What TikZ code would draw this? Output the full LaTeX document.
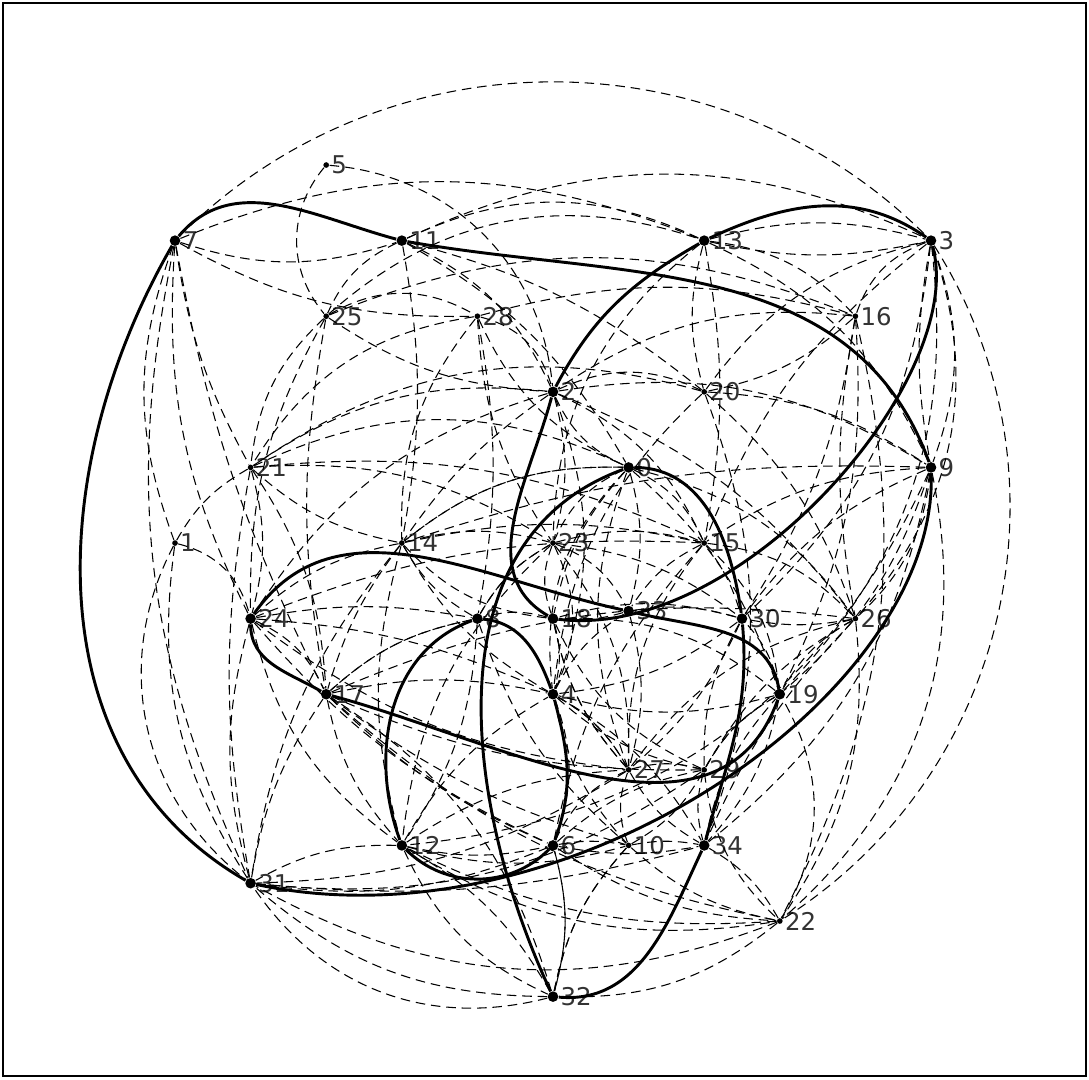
\documentclass[tikz,border=0pt]{standalone}
\usepackage{fontspec}
\setmainfont{DejaVu Sans}

\begin{document}
\begin{tikzpicture}[x=1cm, y=1cm,
    bignode/.style={circle, fill=black, inner sep=0pt, minimum size=0.14cm, label distance=0.07cm},
    smallnode/.style={circle, fill=black, inner sep=0pt, minimum size=0.075cm, label distance=0.14cm},
    every label/.style={font=\fontsize{9.2}{10}\selectfont, text=black!80, inner sep=0.5pt},
    cycleedge/.style={line width=1.1pt},
    otheredge/.style={line width=0.4pt, dash pattern=on 3.6pt off 2.2pt}]

    % frame
    \useasboundingbox (-2.315,2.183) rectangle (12.090,-12.090);
    \draw[line width=1pt] (-2.275,2.143) rectangle (12.050,-12.050);

    % vertices on the cycles
    \node[bignode, label=right:0]  (n0)  at (6,-4)    {};
    \node[bignode, label=right:2]  (n2)  at (5,-3)    {};
    \node[bignode, label=right:3]  (n3)  at (10,-1)   {};
    \node[bignode, label=right:4]  (n4)  at (5,-7)    {};
    \node[bignode, label=right:6]  (n6)  at (5,-9)    {};
    \node[bignode, label=right:7]  (n7)  at (0,-1)    {};
    \node[bignode, label=right:8]  (n8)  at (4,-6)    {};
    \node[bignode, label=right:9]  (n9)  at (10,-4)   {};
    \node[bignode, label=right:11] (n11) at (3,-1)    {};
    \node[bignode, label=right:12] (n12) at (3,-9)    {};
    \node[bignode, label=right:13] (n13) at (7,-1)    {};
    \node[bignode, label=right:17] (n17) at (2,-7)    {};
    \node[bignode, label=right:18] (n18) at (5,-6)    {};
    \node[bignode, label=right:19] (n19) at (8,-7)    {};
    \node[bignode, label=right:24] (n24) at (1,-6)    {};
    \node[bignode, label=right:30] (n30) at (7.5,-6)  {};
    \node[bignode, label=right:31] (n31) at (1,-9.5)  {};
    \node[bignode, label=right:32] (n32) at (5,-11)   {};
    \node[bignode, label=right:33] (n33) at (6,-5.9)  {};
    \node[bignode, label=right:34] (n34) at (7,-9)    {};

    % remaining vertices
    \node[smallnode, label=right:1]  (n1)  at (0,-5)  {};
    \node[smallnode, label=right:5]  (n5)  at (2,0)   {};
    \node[smallnode, label=right:10] (n10) at (6,-9)  {};
    \node[smallnode, label=right:14] (n14) at (3,-5)  {};
    \node[smallnode, label=right:15] (n15) at (7,-5)  {};
    \node[smallnode, label=right:16] (n16) at (9,-2)  {};
    \node[smallnode, label=right:20] (n20) at (7,-3)  {};
    \node[smallnode, label=right:21] (n21) at (1,-4)  {};
    \node[smallnode, label=right:22] (n22) at (8,-10) {};
    \node[smallnode, label=right:23] (n23) at (5,-5)  {};
    \node[smallnode, label=right:25] (n25) at (2,-2)  {};
    \node[smallnode, label=right:26] (n26) at (9,-6)  {};
    \node[smallnode, label=right:27] (n27) at (6,-8)  {};
    \node[smallnode, label=right:28] (n28) at (4,-2)  {};
    \node[smallnode, label=right:29] (n29) at (7,-8)  {};

    % other edges (dashed)
    \foreach \a/\c/\b in {7/3/45, 7/13/22, 7/11/-18, 7/28/-15, 7/21/-10, 7/24/-15,
        7/17/-8, 7/1/-20, 7/31/-18, 5/25/-40, 5/2/40,
        11/13/25, 11/3/25, 11/2/20, 11/25/-20, 11/14/10, 11/0/15, 11/20/12,
        25/13/30, 25/21/-20, 25/24/-15, 25/28/30, 25/16/22, 25/17/-10, 25/2/-15,
        28/16/15, 28/8/10, 28/23/-15, 28/0/-20, 28/21/-25, 28/14/-20, 28/2/30,
        13/3/15, 13/3/-12, 13/16/20, 13/9/20, 13/20/-15, 13/23/-25, 13/15/10,
        3/9/20, 3/9/-10, 3/26/30, 3/19/25, 3/22/45, 3/16/-25, 3/20/-20, 3/15/-15, 3/30/20,
        16/26/-10, 16/22/20, 16/2/-20, 16/30/12, 16/19/15, 16/20/15,
        20/4/-20, 20/9/15, 20/2/-25, 20/21/-25, 20/26/15, 20/34/20}
        \draw[otheredge] (n\a) to[bend left=\b] (n\c);
    \foreach \a/\c/\b in {2/9/20, 2/21/-20, 2/24/-20, 2/14/-10, 2/23/15, 2/15/20,
        2/26/15, 2/4/20, 2/0/-20,
        21/24/15, 21/1/-15, 21/17/15, 21/31/-10, 21/15/15, 21/23/18, 21/0/25, 21/14/-15,
        9/26/20, 9/22/30, 9/19/15, 9/15/-15, 9/12/30, 9/34/20, 9/14/-10, 9/30/-15,
        14/24/-15, 14/17/-10, 14/23/15, 14/18/-20, 14/12/-15, 14/31/-15, 14/15/12,
        14/4/-15, 14/0/20,
        23/18/-20, 23/15/15, 23/33/20, 23/4/25, 23/27/20, 23/12/-20, 23/8/-15, 23/30/15,
        15/33/-15, 15/30/10, 15/26/20, 15/19/20, 15/27/-20, 15/6/-15, 15/24/-12,
        0/23/-20, 0/15/20, 0/33/15, 0/18/-15, 0/4/-25, 0/26/20, 0/27/-20, 0/19/15, 0/14/-20}
        \draw[otheredge] (n\a) to[bend left=\b] (n\c);
    \foreach \a/\c/\b in {26/19/-15, 26/22/20, 26/29/-15, 26/34/-10, 26/17/-15,
        26/27/-20, 26/30/10,
        24/31/-15, 24/17/20, 24/12/-20, 24/8/10, 24/4/10, 24/27/-15, 24/6/-12,
        1/31/-20, 1/31/-40, 1/24/30,
        17/12/-15, 17/6/-10, 17/10/-10, 17/22/-15, 17/31/-12, 17/4/12, 17/8/15, 17/29/-12,
        12/6/-12, 12/31/-15, 12/32/-20, 12/22/-20, 12/10/-15, 12/4/15, 12/27/15,
        6/10/10, 6/34/-10, 6/22/-15, 6/32/15, 6/31/15, 6/27/20, 6/29/15,
        10/34/10, 10/22/-15, 10/32/-15, 10/27/20, 10/29/-15, 10/4/15,
        27/29/15, 27/4/-15, 27/18/15, 27/34/-15, 27/31/15,
        29/34/-15, 29/22/-20, 29/19/15, 29/31/20, 29/18/20,
        22/32/20, 22/31/25, 22/34/-15, 22/19/-30, 22/12/15,
        32/31/20, 32/31/35, 32/12/-15, 32/6/-15, 32/10/15, 32/17/-20, 31/34/-10,
        19/30/-15, 19/4/15, 19/18/-20, 19/29/-15, 19/34/15,
        30/18/-15, 30/4/15, 30/29/-15, 30/27/12,
        33/18/10, 33/4/-15, 33/27/15, 33/30/12,
        18/4/15, 18/8/-15, 18/27/-15,
        8/17/-15, 8/23/15, 8/14/15, 8/10/-15, 8/12/15,
        4/6/20, 4/27/15, 4/29/-15, 4/34/15, 34/19/15}
        \draw[otheredge] (n\a) to[bend left=\b] (n\c);

    % cycle 7-11-9-31
    \draw[cycleedge] (n7) to[out=50, in=165] (n11);
    \draw[cycleedge] (n11) to[out=-10, in=110] (n9);
    \draw[cycleedge] (n9) .. controls (10.1,-7.0) and (5.2,-10.4) .. (n31);
    \draw[cycleedge] (n31) to[out=150, in=240] (n7);

    % cycle 13-3-18-2
    \draw[cycleedge] (n13) to[out=25, in=145] (n3);
    \draw[cycleedge] (n3) .. controls (10.5,-2.8) and (7.5,-6.3) .. (n18);
    \draw[cycleedge] (n18) to[out=150, in=-105] (n2);
    \draw[cycleedge] (n2) to[out=62, in=-150] (n13);

    % cycle 24-33-19-17
    \draw[cycleedge] (n24) to[out=55, in=168] (n33);
    \draw[cycleedge] (n33) to[out=-14, in=100] (n19);
    \draw[cycleedge] (n19) to[out=-110, in=-15] (n17);
    \draw[cycleedge] (n17) to[out=150, in=-90] (n24);

    % cycle 8-4-6-12
    \draw[cycleedge] (n8) to[out=-5, in=110] (n4);
    \draw[cycleedge] (n4) to[out=-75, in=70] (n6);
    \draw[cycleedge] (n6) to[out=-135, in=-45] (n12);
    \draw[cycleedge] (n12) to[out=110, in=-160] (n8);

    % cycle 0-30-34-32
    \draw[cycleedge] (n0) to[out=0, in=98] (n30);
    \draw[cycleedge] (n30) to[out=-85, in=75] (n34);
    \draw[cycleedge] (n34) to[out=-115, in=-5] (n32);
    \draw[cycleedge] (n32) to[out=115, in=-160] (n0);

\end{tikzpicture}
\end{document}
